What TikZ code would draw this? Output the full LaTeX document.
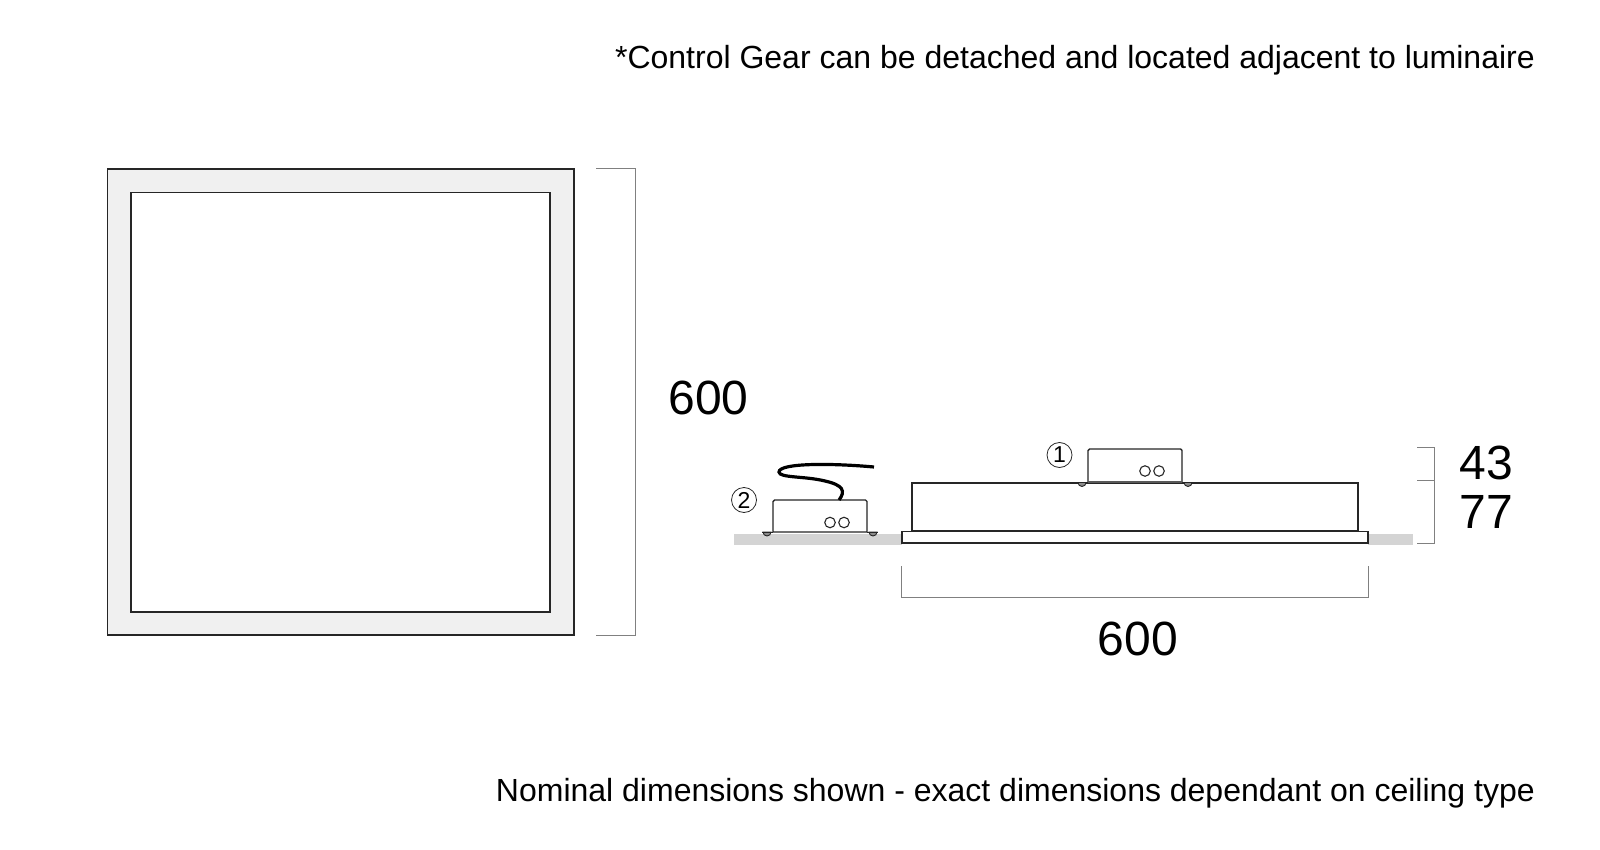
\documentclass[tikz,border=0pt]{standalone}
\usepackage{fontspec}
\setmainfont{Liberation Sans}
\tikzset{
  outline/.style = {draw=black!85, line width=1.5pt},
  gear/.style = {draw=black!85, line width=1.4pt, fill=white},
  hole/.style = {circle, draw=black!85, line width=1.1pt, minimum size=10.5pt, inner sep=0pt},
  tab/.style = {draw=black!85, fill=black!45, line width=0.9pt},
  tabbase/.style = {draw=black!85, line width=1.2pt},
  ceiling/.style = {fill=black!17, draw=none},
  dim/.style = {draw=black!50, line width=1pt},
  note/.style = {inner sep=0pt, font=\fontsize{32}{36}\selectfont},
  size/.style = {inner sep=0pt, font=\fontsize{48}{52}\selectfont},
  marker/.style = {circle, draw=black!85, line width=0.8pt, minimum size=25pt, inner sep=0pt, font=\fontsize{23}{24}\selectfont}
}
\begin{document}
\begin{tikzpicture}[x=1pt, y=-1pt]
\useasboundingbox (0,0) rectangle (1600,850);
% plan view
\draw[outline, fill=black!6] (107.5,169) rectangle (574,635);
\draw[outline, fill=white] (131,192.5) rectangle (550,612);
% ceiling
\fill[ceiling] (734,533.5) rectangle (902,544.5);
\fill[ceiling] (1368,533.5) rectangle (1413,544.5);
% luminaire
\draw[outline, fill=white] (912,483) rectangle (1358,531);
\draw[outline, fill=white] (902,531.5) rectangle (1368,543);
% gear on the luminaire
\draw[tab] (1078,482.5) arc[start angle=180, end angle=0, x radius=4, y radius=4] -- cycle;
\draw[tab] (1184,482.5) arc[start angle=180, end angle=0, x radius=4, y radius=4] -- cycle;
\draw[gear] (1088,482.5) -- (1088,451) [rounded corners=1.5pt] -- (1088,449) -- (1182,449) [sharp corners] -- (1182,482.5) -- cycle;
\draw[draw=black!65, line width=2pt] (1088,482) -- (1182,482);
\node[hole] (holeA) at (1145,471) {};
\node[hole] (holeB) at (1159,471) {};
\node[marker] (one) at (1059.5,455) {1};
% detached gear
\draw[tab] (763,532) arc[start angle=180, end angle=0, x radius=4, y radius=4] -- cycle;
\draw[tab] (869,532) arc[start angle=180, end angle=0, x radius=4, y radius=4] -- cycle;
\draw[tabbase] (762,532.2) -- (773,532.2);
\draw[tabbase] (867,532.2) -- (878,532.2);
\draw[gear] (773,532) -- (773,502) [rounded corners=1.5pt] -- (773,500) -- (867,500) [sharp corners] -- (867,532) -- cycle;
\node[hole] (holeC) at (830,522.5) {};
\node[hole] (holeD) at (844,522.5) {};
\node[marker] (two) at (744,500) {2};
% cable
\draw[black, line width=3.2pt] (839,500) .. controls (846,491) and (843,485) .. (825,481)
  .. controls (805,476) and (779,478) .. (779,472)
  .. controls (779,463) and (830,463) .. (874,467);
% dimensions
\coordinate (planA) at (596,169);
\coordinate (planB) at (635,169);
\coordinate (planC) at (635,635);
\coordinate (planD) at (596,635);
\draw[dim] (planA) -- (planB) -- (planC) -- (planD);
\coordinate (widthA) at (901.5,566);
\coordinate (widthB) at (901.5,597);
\coordinate (widthC) at (1368,597);
\coordinate (widthD) at (1368,566);
\draw[dim] (widthA) -- (widthB) -- (widthC) -- (widthD);
\coordinate (heightA) at (1417,447);
\coordinate (heightB) at (1434,447);
\coordinate (heightC) at (1434,543);
\coordinate (heightD) at (1417,543);
\coordinate (heightE) at (1417,480);
\coordinate (heightF) at (1434,480);
\draw[dim] (heightA) -- (heightB) -- (heightC) -- (heightD);
\draw[dim] (heightE) -- (heightF);
% labels
\node[size, anchor=base] (planlabel) at (708.5,414.5) {600};
\node[size, anchor=base] (widthlabel) at (1138,655) {600};
\node[size, anchor=base west] (toplabel) at (1459.5,479.5) {43};
\node[size, anchor=base west] (botlabel) at (1459.5,528.7) {77};
\node[note, anchor=base east] (gearnote) at (1535,69) {*Control Gear can be detached and located adjacent to luminaire};
\node[note, anchor=base east] (sizenote) at (1535,801) {Nominal dimensions shown - exact dimensions dependant on ceiling type};
\end{tikzpicture}
\end{document}
